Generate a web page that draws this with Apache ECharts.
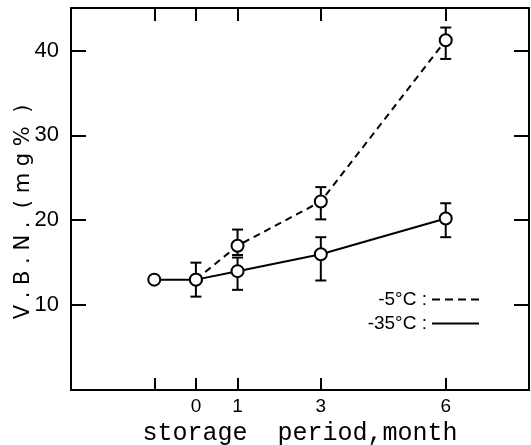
<!DOCTYPE html>
<html>
<head>
<meta charset="utf-8">
<script src="https://cdn.jsdelivr.net/npm/echarts@6/dist/echarts.min.js"></script>
<style>
    html, body { margin: 0; padding: 0; background: #fff; }
    #chart { width: 531px; height: 445px; }
</style>
</head>
<body>
<div id="chart"></div>
<script>
    // storage period (month); -1 is the unlabeled starting point
    var monthsCold = [-1, 0, 1, 3, 6];
    var vbnCold = [13, 13, 14, 16, 20.2];          // -35°C, solid
    var coldLow = [null, 11, 11.8, 12.9, 18];
    var coldHigh = [null, 15, 15.6, 18, 22];

    var monthsWarm = [0, 1, 3, 6];
    var vbnWarm = [13, 17, 22.2, 41.2];            // -5°C, dashed
    var warmLow = [null, 15.9, 20.1, 39];
    var warmHigh = [null, 18.9, 23.9, 42.7];

    var xTicks = [-1, 0, 1, 3, 6];
    var xLabels = [0, 1, 3, 6];
    var yTicks = [10, 20, 30, 40];

    var seriesNames = ['-5°C', '-35°C'];

    function pairs(xs, ys) {
        return xs.map(function (x, i) { return [x, ys[i]]; });
    }
    function bars(xs, lo, hi) {
        var out = [];
        xs.forEach(function (x, i) {
            if (lo[i] != null) out.push([x, lo[i], hi[i]]);
        });
        return out;
    }

    function renderErrorBar(params, api) {
        var x = api.value(0);
        var lo = api.coord([x, api.value(1)]);
        var hi = api.coord([x, api.value(2)]);
        var half = 5.5;
        var st = { stroke: '#000', lineWidth: 2 };
        return {
            type: 'group',
            children: [
                { type: 'line', shape: { x1: lo[0], y1: lo[1], x2: hi[0], y2: hi[1] }, style: st },
                { type: 'line', shape: { x1: hi[0] - half, y1: hi[1], x2: hi[0] + half, y2: hi[1] }, style: st },
                { type: 'line', shape: { x1: lo[0] - half, y1: lo[1], x2: lo[0] + half, y2: lo[1] }, style: st }
            ]
        };
    }

    var axisLine = { show: true, onZero: false, lineStyle: { color: '#000', width: 2 } };

    var chart = echarts.init(document.getElementById('chart'));
    chart.setOption({
        animation: false,
        backgroundColor: '#fff',
        grid: { left: 71, right: 2, top: 8, bottom: 55, containLabel: false, outerBoundsMode: 'none' },
        legend: {
            orient: 'vertical',
            align: 'right',
            right: 47,
            top: 285,
            itemWidth: 47,
            itemHeight: 2,
            itemGap: 5,
            formatter: '{name} :',
            textStyle: { fontSize: 19, color: '#000', fontFamily: 'Liberation Sans' },
            data: [
                { name: seriesNames[0], icon: 'path://M0,0h8v2h-8zM13,0h8v2h-8zM26,0h8v2h-8zM39,0h8v2h-8z' },
                { name: seriesNames[1], icon: 'path://M0,0h47v2h-47z' }
            ]
        },
        xAxis: [{
            type: 'value',
            min: -3,
            max: 8,
            position: 'bottom',
            axisLine: axisLine,
            splitLine: { show: false },
            axisTick: { inside: true, length: 12, customValues: xTicks, lineStyle: { width: 2, color: '#000' } },
            axisLabel: { customValues: xLabels, fontSize: 19, color: '#000', margin: 7, fontFamily: 'Liberation Sans' },
            name: 'storage  period,month',
            nameLocation: 'middle',
            nameGap: 31,
            nameTextStyle: { fontSize: 25, color: '#000', fontFamily: 'Liberation Mono' }
        }, {
            type: 'value',
            min: -3,
            max: 8,
            position: 'top',
            axisLine: axisLine,
            splitLine: { show: false },
            axisTick: { inside: true, length: 13, customValues: xTicks, lineStyle: { width: 2, color: '#000' } },
            axisLabel: { show: false }
        }],
        yAxis: [{
            type: 'value',
            min: 0,
            max: 45,
            position: 'left',
            axisLine: axisLine,
            splitLine: { show: false },
            axisTick: { inside: true, length: 15, customValues: yTicks, lineStyle: { width: 2, color: '#000' } },
            axisLabel: { customValues: yTicks, fontSize: 22, color: '#000', margin: 12, fontFamily: 'Liberation Sans' }
        }, {
            type: 'value',
            min: 0,
            max: 45,
            position: 'right',
            axisLine: axisLine,
            splitLine: { show: false },
            axisTick: { inside: true, length: 15, customValues: yTicks, lineStyle: { width: 2, color: '#000' } },
            axisLabel: { show: false }
        }],
        graphic: [{
            type: 'text',
            x: 24,
            y: 212,
            rotation: Math.PI / 2,
            style: {
                text: 'V . B . N .  ( m g %  )',
                fontSize: 21,
                fontFamily: 'DejaVu Sans',
                fill: '#000',
                align: 'center',
                verticalAlign: 'middle'
            }
        }],
        series: [{
            name: 'errWarm',
            type: 'custom',
            renderItem: renderErrorBar,
            data: bars(monthsWarm, warmLow, warmHigh),
            z: 1
        }, {
            name: 'errCold',
            type: 'custom',
            renderItem: renderErrorBar,
            data: bars(monthsCold, coldLow, coldHigh),
            z: 1
        }, {
            name: seriesNames[0],
            type: 'line',
            data: pairs(monthsWarm, vbnWarm),
            symbol: 'emptyCircle',
            symbolSize: 12,
            color: '#000',
            itemStyle: { color: '#000', borderWidth: 2 },
            lineStyle: { color: '#000', width: 2, type: [7, 5] },
            z: 3
        }, {
            name: seriesNames[1],
            type: 'line',
            data: pairs(monthsCold, vbnCold),
            symbol: 'emptyCircle',
            symbolSize: 12,
            color: '#000',
            itemStyle: { color: '#000', borderWidth: 2 },
            lineStyle: { color: '#000', width: 2 },
            z: 4
        }]
    });
</script>
</body>
</html>
